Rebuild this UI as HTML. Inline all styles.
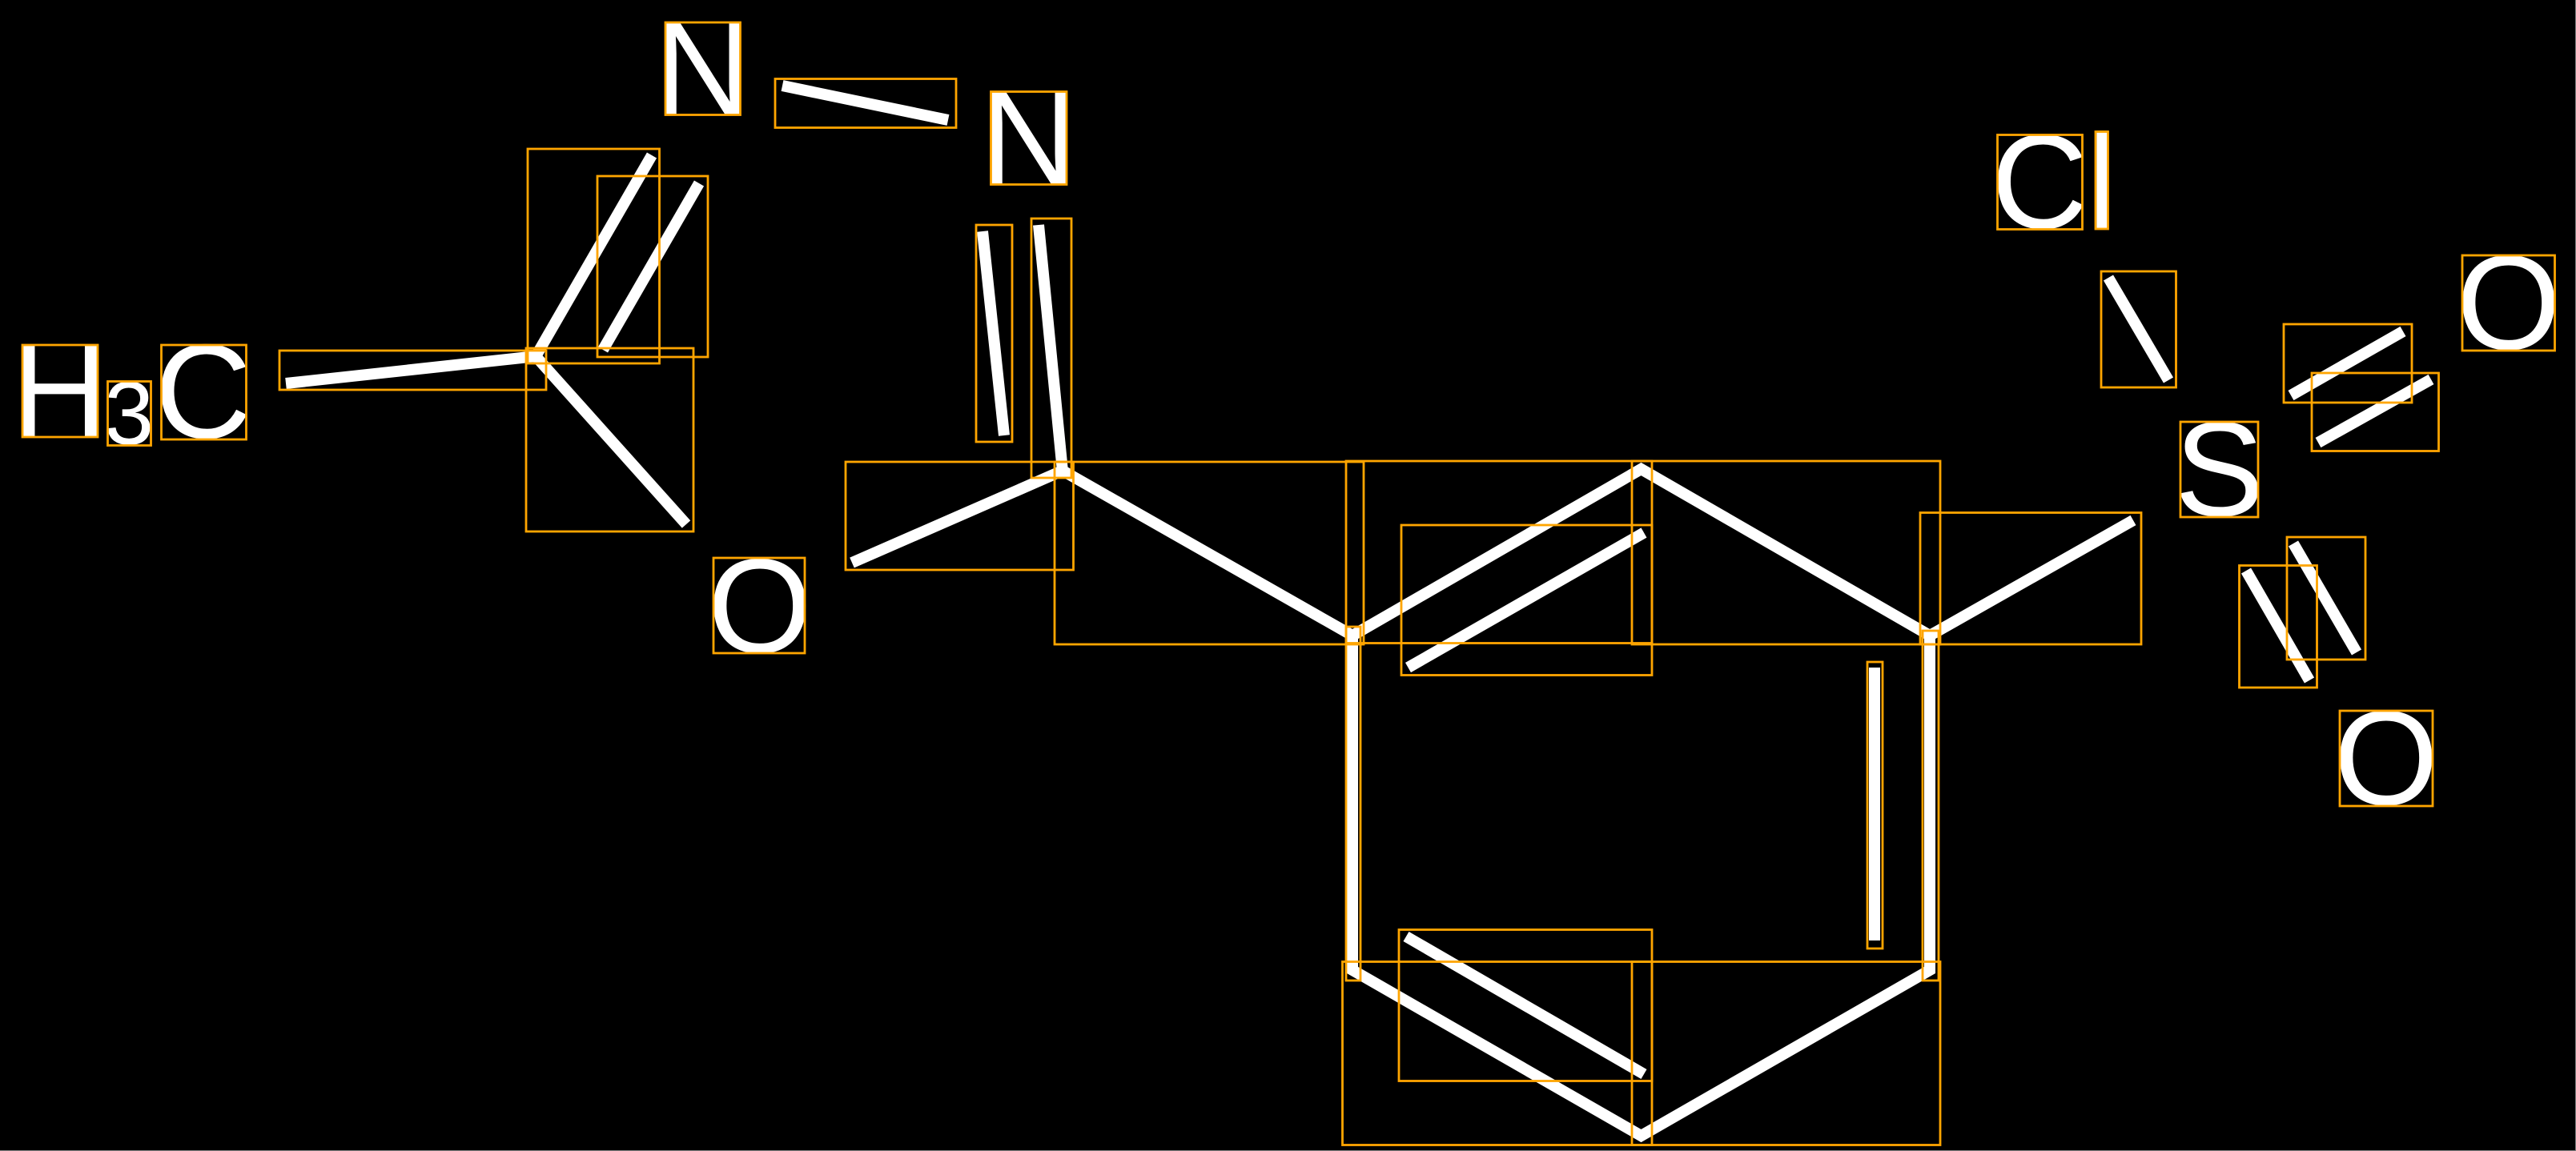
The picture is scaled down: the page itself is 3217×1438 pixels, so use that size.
<!DOCTYPE html>
<html><head><meta charset="utf-8"><style>
html,body{margin:0;padding:0;background:#000;width:3217px;height:1438px;overflow:hidden}
svg{display:block}
text{font-family:"Liberation Sans",sans-serif;fill:#fff;font-size:168px}
.b line,.b polyline{stroke:#fff;stroke-width:14;stroke-linecap:butt;stroke-linejoin:miter;stroke-miterlimit:10;fill:none}
.r rect{fill:none;stroke:#FFA500;stroke-width:2.8}
</style></head><body>
<svg xmlns="http://www.w3.org/2000/svg" width="3217" height="1438" viewBox="0 0 3217 1438">
<rect width="3217" height="1438" fill="#000"/>
<rect x="3216" y="0" width="1" height="1438" fill="#808080"/>
<rect x="0" y="1437" width="3217" height="1" fill="#808080"/>
<g class="b">
<line x1="357" y1="479" x2="670" y2="445"/>
<line x1="814" y1="194" x2="668" y2="447"/>
<line x1="873" y1="229" x2="753" y2="437"/>
<line x1="857" y1="655" x2="668" y2="444"/>
<line x1="977" y1="107" x2="1184" y2="150"/>
<line x1="1227" y1="289" x2="1254" y2="544"/>
<line x1="1297" y1="281" x2="1327" y2="589"/>
<polyline points="1064,703 1327,588 1689,794 2049.5,586 2410,794 2664,650"/>
<polyline points="1689,794 1689,1212 2049.5,1419 2410,1212 2410,794"/>
<line x1="1758.5" y1="834" x2="2053" y2="665.5"/>
<line x1="2341" y1="834" x2="2341" y2="1175"/>
<line x1="1756" y1="1170" x2="2053" y2="1342"/>
<line x1="2633" y1="347" x2="2708" y2="475"/>
<line x1="2861" y1="494" x2="3001" y2="414"/>
<line x1="2895" y1="553" x2="3036" y2="474"/>
<line x1="2864" y1="679" x2="2943" y2="815"/>
<line x1="2805" y1="713" x2="2884" y2="850"/>
</g>
<text x="14" y="546">H</text>
<text x="130" y="555" style="font-size:112px">3</text>
<text x="193" y="547">C</text>
<text x="817" y="143.5">N</text>
<text x="1224" y="230">N</text>
<text x="883.5" y="815">O</text>
<text x="2486.5" y="285">C</text>
<text x="2607" y="285">l</text>
<text x="2715.5" y="644">S</text>
<text x="3067.5" y="436">O</text>
<text x="2914.5" y="1005">O</text>
<g class="r">
<rect x="28" y="431" width="94" height="115"/>
<rect x="134.5" y="476.5" width="54" height="80"/>
<rect x="201.5" y="431" width="106" height="118"/>
<rect x="831" y="28" width="93.5" height="115.5"/>
<rect x="1237.5" y="114.5" width="94.5" height="116"/>
<rect x="891" y="697" width="114" height="119"/>
<rect x="2494.5" y="168.5" width="106" height="118"/>
<rect x="2617" y="164.5" width="15.5" height="121.5"/>
<rect x="2723" y="527" width="97" height="119"/>
<rect x="3075" y="319" width="115.5" height="119"/>
<rect x="2922" y="888" width="116" height="119"/>
<rect x="349" y="438" width="333" height="49"/>
<rect x="659" y="186" width="164.5" height="268"/>
<rect x="746" y="220" width="138" height="226"/>
<rect x="657" y="435" width="209" height="229"/>
<rect x="968" y="98.5" width="226" height="61"/>
<rect x="1219" y="281" width="45" height="271"/>
<rect x="1288" y="273" width="50" height="324"/>
<rect x="1056" y="577" width="284.5" height="135"/>
<rect x="1317" y="577" width="386" height="228"/>
<rect x="1681" y="576" width="382" height="227.5"/>
<rect x="1750" y="656" width="313" height="187.5"/>
<rect x="2038" y="576" width="385" height="229"/>
<rect x="2398" y="640.5" width="276" height="164.5"/>
<rect x="1681" y="783" width="18" height="442"/>
<rect x="2401" y="788" width="20" height="437"/>
<rect x="2332" y="827" width="19" height="358"/>
<rect x="1676.5" y="1201.5" width="386.5" height="229"/>
<rect x="1747" y="1161.5" width="316" height="189"/>
<rect x="2038" y="1201.5" width="385" height="229"/>
<rect x="2624" y="339" width="93.5" height="145"/>
<rect x="2852" y="405" width="160" height="98"/>
<rect x="2887" y="466" width="158.5" height="97.5"/>
<rect x="2856" y="671" width="98" height="153"/>
<rect x="2796.5" y="706.5" width="97" height="152.5"/>
</g>
</svg>
</body></html>
